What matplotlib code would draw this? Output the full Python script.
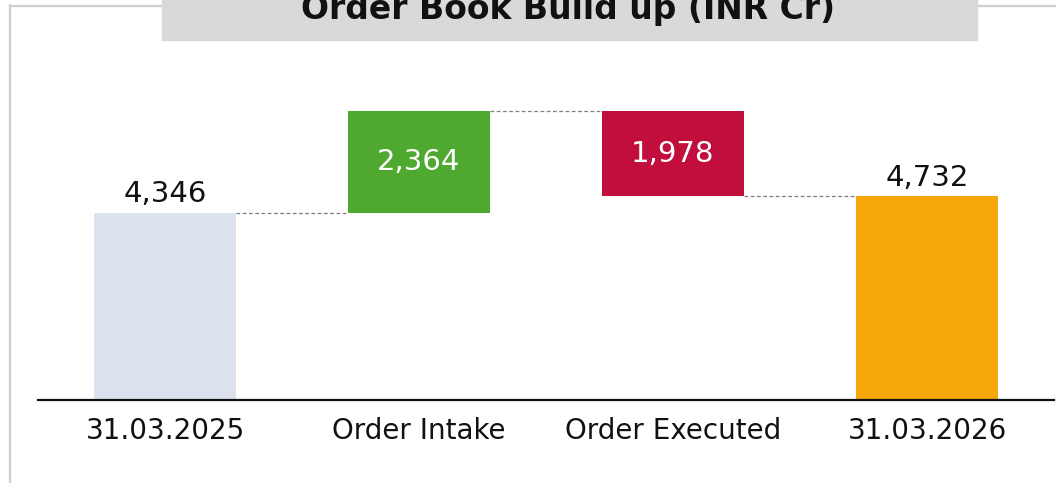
import matplotlib.pyplot as plt
from matplotlib.patches import Rectangle
from matplotlib.lines import Line2D

# Chart data
categories = ['31.03.2025', 'Order Intake', 'Order Executed', '31.03.2026']
values = [4346, 2364, 1978, 4732]
kinds = ['total', 'up', 'down', 'total']
colors = ['#dde3ee', '#4fa82f', '#c20e3d', '#f6a80a']
title = 'Order Book Build up (INR Cr)'

W, H = 1056, 483
fig = plt.figure(figsize=(W / 100, H / 100), dpi=100)

# axes placed so that the baseline sits at ~400 px from the top
ax = fig.add_axes([38 / W, 83 / H, 1016 / W, 340 / H])
ax.set_xlim(-0.5, 3.5)
ax.set_ylim(0, 340 / (187 / 4346))

# waterfall bars
bottoms, tops = [], []
level = 0
for v, k in zip(values, kinds):
    if k == 'total':
        b, t = 0, v
        level = v
    elif k == 'up':
        b, t = level, level + v
        level = t
    else:
        b, t = level - v, level
        level = b
    bottoms.append(b)
    tops.append(t)

w = 0.56
x = range(len(values))
ax.bar(x, [t - b for b, t in zip(bottoms, tops)], bottom=bottoms, width=w,
       color=colors, zorder=2)

# dashed connectors between bars
for i in range(len(values) - 1):
    if kinds[i] == 'down':
        y = bottoms[i]
    else:
        y = tops[i]
    ax.plot([i + w / 2, i + 1 - w / 2], [y, y], ls=(0, (3, 2)), lw=0.9,
            color='#7f7f7f', zorder=1)

# value labels
for i, (v, k) in enumerate(zip(values, kinds)):
    txt = f'{v:,}'
    if k == 'total':
        ax.text(i, tops[i] + 250, txt, ha='center', va='baseline',
                fontsize=21, color='#111111')
    else:
        ax.text(i, (bottoms[i] + tops[i]) / 2, txt, ha='center',
                va='center', fontsize=21, color='white')

ax.set_xticks(list(x))
ax.set_xticklabels(categories, fontsize=20, color='#111111')
ax.tick_params(axis='x', length=0, pad=12)
ax.set_yticks([])
for s in ['top', 'left', 'right']:
    ax.spines[s].set_visible(False)
ax.spines['bottom'].set_linewidth(1.6)
ax.spines['bottom'].set_color('#111111')

# outer frame lines (left and top)
fig.add_artist(Line2D([10 / W, 10 / W], [0, 1 - 5 / H], color='#cfcfcf', lw=1.6))
fig.add_artist(Line2D([10 / W, 1], [1 - 6 / H, 1 - 6 / H], color='#cfcfcf', lw=1.6))

# grey title banner (title runs off the top edge, as in the source)
fig.add_artist(Rectangle((162 / W, 1 - 40 / H), 815 / W, 40 / H,
                         transform=fig.transFigure, color='#d9d9d9', zorder=3))
fig.text(568 / W, 1 - 19 / H, title, ha='center', va='baseline',
         fontsize=23.8, fontweight='bold', color='#111111', zorder=4)

fig.savefig('out.png', dpi=100)
